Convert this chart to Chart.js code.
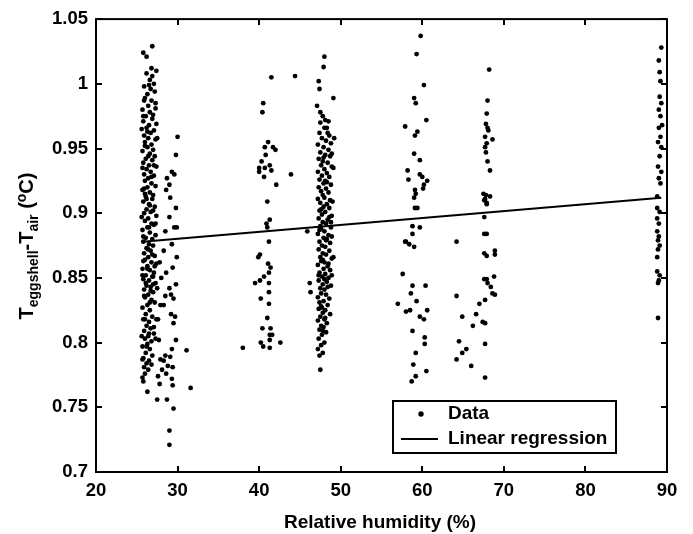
<!DOCTYPE html>
<html>
<head>
<meta charset="utf-8">
<script src="https://cdn.jsdelivr.net/npm/chart.js@4.4.1/dist/chart.umd.min.js"></script>
<style>
  html, body { margin: 0; padding: 0; background: #fff; }
  #wrap { width: 693px; height: 534px; }
</style>
</head>
<body>
<div id="wrap"><canvas id="eggChart" width="693" height="534"></canvas></div>
<script>
// Eggshell - air temperature difference vs relative humidity

// measured points, [RH %, dT degC], read per humidity group
const rh26 = [
  [25.8,1.024],[26.2,1.021],[26.9,1.029],[26.8,1.012],[27.4,1.010],[26.2,1.008],[26.9,1.006],[26.6,1.003],
  [27.1,1.000],[25.9,0.998],[26.7,0.996],[27.2,0.994],[26.3,0.992],[26.0,0.989],[26.8,0.987],[27.3,0.985],
  [26.4,0.983],[25.7,0.980],[26.6,0.978],[27.0,0.976],[26.1,0.975],[26.9,0.973],[25.8,0.971],[27.4,0.969],
  [26.5,0.968],[26.2,0.966],[27.1,0.964],[26.7,0.962],[25.9,0.960],[26.4,0.958],[27.3,0.957],[26.0,0.955],
  [26.8,0.953],[26.3,0.951],[27.0,0.949],[25.7,0.948],[26.6,0.946],[27.2,0.944],[26.1,0.942],[26.9,0.941],
  [25.8,0.939],[26.5,0.937],[27.4,0.936],[26.2,0.934],[26.7,0.932],[25.9,0.930],[27.1,0.929],[26.4,0.927],
  [26.0,0.925],[26.8,0.923],[27.3,0.921],[26.3,0.920],[25.7,0.918],[26.6,0.916],[27.0,0.914],[26.1,0.913],
  [26.9,0.911],[25.8,0.909],[26.5,0.907],[27.2,0.905],[26.2,0.903],[26.7,0.901],[25.9,0.900],[27.4,0.898],
  [26.4,0.896],[26.0,0.894],[26.8,0.892],[27.1,0.891],[26.3,0.889],[25.7,0.887],[26.6,0.885],[27.3,0.883],
  [26.1,0.881],[26.9,0.880],[25.8,0.878],[26.5,0.876],[27.0,0.875],[26.2,0.873],[26.7,0.871],[25.9,0.869],
  [27.2,0.867],[26.4,0.866],[26.0,0.864],[26.8,0.862],[27.4,0.861],[26.3,0.859],[25.7,0.857],[26.6,0.856],
  [27.1,0.854],[26.1,0.852],[26.9,0.851],[25.8,0.849],[26.5,0.848],[27.3,0.846],[26.2,0.844],[26.7,0.843],
  [25.9,0.841],[27.0,0.839],[26.4,0.837],[26.0,0.835],[26.8,0.833],[27.2,0.831],[26.3,0.829],[25.7,0.827],
  [26.6,0.825],[26.1,0.822],[26.9,0.820],[25.8,0.818],[26.5,0.816],[27.4,0.818],[26.2,0.813],[26.7,0.811],
  [25.9,0.809],[27.1,0.807],[26.4,0.805],[26.0,0.803],[26.8,0.801],[27.3,0.803],[26.3,0.799],[25.7,0.797],
  [26.6,0.795],[26.1,0.792],[26.9,0.790],[25.8,0.788],[26.5,0.786],[26.2,0.784],[25.9,0.781],[26.4,0.779],
  [26.0,0.776],[25.7,0.773],[25.8,0.770],[26.3,0.762],
  [25.6,0.965],[26.0,0.952],[26.4,0.944],[27.5,0.958],[25.7,0.935],[26.8,0.928],[25.9,0.919],[26.2,0.911],
  [27.0,0.902],[25.6,0.897],[26.5,0.889],[26.9,0.868],[25.8,0.863],[26.3,0.857],[27.2,0.859],[25.7,0.852],
  [26.1,0.846],[26.7,0.840],[27.0,0.851],[25.9,0.836],[26.6,0.831],[26.0,0.818],[26.5,0.807],[27.1,0.812],
  [25.6,0.805],[26.2,0.797],[26.8,0.783],[25.7,0.787],[27.0,0.845],[26.4,0.872],[25.8,0.882],[27.3,0.892],
  [26.6,0.906],[26.0,0.915],[27.1,0.937],[26.3,0.963],[25.8,0.975],[27.3,0.981],[26.5,0.999],[25.9,0.987]
];
const rh29 = [
  [30.0,0.959],[29.8,0.945],[29.3,0.932],[29.6,0.930],[28.7,0.927],[29.0,0.922],[28.6,0.918],[29.1,0.912],
  [29.8,0.904],[29.0,0.897],[29.6,0.889],[29.9,0.889],[28.5,0.886],[29.3,0.876],[29.9,0.866],[28.3,0.871],
  [29.4,0.858],[29.8,0.845],[28.6,0.854],[29.2,0.837],[28.5,0.836],[29.0,0.842],[28.3,0.829],[29.5,0.834],
  [29.2,0.822],[29.7,0.820],[29.5,0.815],[29.8,0.802],[29.3,0.795],[28.5,0.790],[28.3,0.786],[29.1,0.789],
  [28.8,0.782],[29.4,0.781],[28.1,0.779],[28.6,0.776],[29.3,0.772],[27.8,0.768],[29.4,0.767],[27.6,0.774],
  [27.9,0.787],[27.7,0.802],[27.6,0.818],[27.9,0.829],[27.5,0.842],[28.0,0.850],[27.8,0.862],
  [31.1,0.794],[31.6,0.765],[29.5,0.749],[29.0,0.732],[29.0,0.721],[28.7,0.756],[27.5,0.756]
];
const rh41 = [
  [40.5,0.985],[40.4,0.978],[41.1,0.955],[40.7,0.951],[41.7,0.951],[42.0,0.949],[40.8,0.945],[40.3,0.940],
  [41.3,0.937],[40.0,0.935],[40.7,0.935],[40.0,0.932],[41.5,0.933],[40.6,0.928],[43.9,0.930],[42.1,0.922],
  [41.0,0.909],[41.3,0.895],[40.9,0.892],[41.0,0.889],[41.2,0.878],[40.1,0.868],[39.9,0.866],[41.1,0.861],
  [41.4,0.858],[41.2,0.854],[40.6,0.851],[40.1,0.848],[39.5,0.846],[41.2,0.846],[41.2,0.839],[40.2,0.834],
  [41.2,0.830],[41.0,0.819],[40.4,0.811],[41.4,0.811],[41.3,0.806],[41.6,0.806],[41.3,0.802],[40.2,0.800],
  [42.6,0.800],[40.5,0.797],[41.3,0.796],[38.0,0.796],[41.5,1.005],[44.4,1.006]
];
const rh48 = [
  [48.0,1.021],[47.9,1.013],[47.3,1.002],[47.4,0.996],[49.1,0.989],[47.1,0.983],[47.5,0.978],[47.8,0.975],
  [48.1,0.972],[48.5,0.971],[48.0,0.966],[48.3,0.966],[47.4,0.962],[48.6,0.960],[47.7,0.958],[48.2,0.956],
  [48.8,0.954],[47.2,0.953],[47.9,0.951],[48.5,0.949],[47.5,0.947],[48.1,0.945],[48.7,0.944],[47.3,0.942],
  [47.8,0.940],[48.4,0.939],[47.6,0.937],[48.9,0.936],[48.0,0.934],[47.2,0.932],[48.3,0.931],[47.7,0.929],
  [48.6,0.928],[47.4,0.926],[48.1,0.925],[47.9,0.923],[48.8,0.922],[47.3,0.920],[48.2,0.919],[47.6,0.917],
  [48.5,0.916],[47.8,0.914],[48.0,0.912],[47.2,0.911],[48.7,0.910],[47.5,0.908],[48.3,0.907],[47.9,0.905],
  [48.6,0.904],[47.4,0.902],[48.1,0.901],[47.7,0.899],[48.9,0.898],[47.3,0.896],[48.4,0.895],[47.8,0.893],
  [48.2,0.892],[47.5,0.890],[48.8,0.889],[47.6,0.888],[48.0,0.886],[45.9,0.886],[47.2,0.884],[48.5,0.883],
  [47.9,0.881],[48.3,0.880],[47.4,0.878],[48.7,0.877],[47.7,0.875],[48.1,0.874],[47.3,0.872],[48.6,0.871],
  [47.8,0.869],[48.2,0.868],[47.5,0.866],[48.9,0.865],[47.6,0.863],[48.0,0.862],[47.2,0.860],[48.4,0.859],
  [47.9,0.857],[48.7,0.856],[47.4,0.854],[48.1,0.853],[47.7,0.851],[48.5,0.850],[47.3,0.848],[48.3,0.847],
  [46.2,0.846],[47.8,0.845],[48.8,0.844],[47.5,0.842],[48.0,0.841],[46.3,0.839],[47.6,0.838],[48.2,0.837],
  [47.2,0.835],[48.6,0.834],[47.9,0.832],[47.4,0.831],[48.4,0.829],[47.7,0.827],[47.3,0.826],[48.1,0.825],
  [47.8,0.823],[48.7,0.822],[47.5,0.820],[48.0,0.818],[47.2,0.817],[48.3,0.815],[47.6,0.813],[47.9,0.812],
  [47.4,0.810],[48.2,0.808],[47.7,0.806],[47.3,0.803],[48.0,0.800],[47.6,0.798],[47.2,0.795],[47.8,0.792],
  [47.4,0.790],[47.5,0.779],
  [47.5,0.970],[48.4,0.962],[47.9,0.943],[48.3,0.924],[47.6,0.903],[48.6,0.897],[47.4,0.887],[48.2,0.879],
  [47.8,0.864],[48.5,0.861],[47.3,0.852],[48.0,0.849],[48.4,0.843],[47.6,0.828],[48.1,0.819],[47.8,0.809],
  [48.9,0.882],[49.0,0.909],[49.1,0.935],[48.9,0.946],[49.2,0.958],[48.8,0.893],[49.1,0.866],[48.9,0.852]
];
const rh59 = [
  [59.8,1.037],[59.3,1.023],[60.2,0.999],[59.0,0.989],[59.2,0.985],[60.5,0.972],[57.9,0.967],[59.4,0.963],
  [59.1,0.960],[59.0,0.946],[59.7,0.941],[58.2,0.933],[59.7,0.930],[60.0,0.928],[60.6,0.925],[58.3,0.926],
  [60.2,0.922],[60.1,0.919],[59.1,0.918],[59.2,0.915],[59.0,0.912],[59.4,0.904],[59.1,0.904],
  [58.8,0.890],[59.7,0.889],[58.8,0.884],[57.9,0.878],[58.0,0.878],[58.4,0.876],[59.0,0.874],[57.6,0.853],
  [58.8,0.844],[60.4,0.844],[58.6,0.838],[59.3,0.832],[57.0,0.830],[58.0,0.824],[58.5,0.825],[60.6,0.825],
  [59.7,0.820],[60.2,0.818],[58.8,0.809],[60.3,0.804],[60.3,0.799],[59.2,0.792],[58.9,0.783],[60.5,0.778],
  [59.2,0.774],[58.7,0.770]
];
const rh67 = [
  [68.2,1.011],[68.0,0.987],[67.9,0.977],[67.8,0.969],[68.0,0.966],[68.1,0.964],[67.7,0.959],[68.6,0.957],
  [67.9,0.954],[67.7,0.951],[67.8,0.947],[68.0,0.940],[68.3,0.933],[67.5,0.915],[67.8,0.914],[68.3,0.913],
  [67.7,0.911],[67.9,0.908],[67.6,0.910],[67.9,0.907],[67.6,0.897],[67.6,0.884],[67.9,0.884],[64.2,0.878],
  [67.6,0.869],[67.9,0.867],[68.9,0.871],[68.9,0.868],[67.6,0.849],[67.9,0.849],[68.8,0.851],[68.0,0.846],
  [68.4,0.843],[68.6,0.838],[68.9,0.837],[64.2,0.836],[67.7,0.833],[67.0,0.830],[66.6,0.822],[64.9,0.820],
  [66.2,0.813],[67.4,0.816],[67.7,0.815],[67.7,0.799],[64.5,0.801],[65.4,0.795],[64.9,0.792],[64.2,0.787],
  [66.0,0.782],[67.7,0.773]
];
const rh89 = [
  [89.3,1.028],[89.0,1.018],[89.1,1.009],[89.2,1.002],[89.1,0.990],[89.3,0.985],[89.0,0.980],[89.2,0.975],
  [89.4,0.968],[89.0,0.966],[89.2,0.959],[88.9,0.955],[89.3,0.951],[89.1,0.944],[88.9,0.936],[89.3,0.932],
  [89.0,0.927],[89.2,0.923],[88.8,0.913],[88.8,0.904],[89.1,0.901],[88.8,0.896],[89.0,0.892],[88.8,0.886],
  [89.0,0.882],[88.9,0.879],[89.1,0.875],[88.9,0.872],[88.8,0.866],[88.8,0.855],[89.1,0.852],[89.0,0.848],
  [88.9,0.846],[88.9,0.819]
];

// fitted line end points
const fitRh = [25.7, 89.3];
const fitDt = [0.878, 0.912];

const xTicks = [20, 30, 40, 50, 60, 70, 80, 90];
const yTicks = [0.7, 0.75, 0.8, 0.85, 0.9, 0.95, 1, 1.05];

const FONT = "'Liberation Sans', Arial, sans-serif";

const allPoints = [].concat(rh26, rh29, rh41, rh48, rh59, rh67, rh89).map(p => ({ x: p[0], y: p[1] }));
const fitPoints = fitRh.map((x, i) => ({ x: x, y: fitDt[i] }));

// box, inward ticks, axis titles and legend
const framePlugin = {
    id: 'frame',
    afterDraw(chart) {
        const ctx = chart.ctx;
        const a = chart.chartArea;
        const xs = chart.scales.x, ys = chart.scales.y;
        ctx.save();
        ctx.strokeStyle = '#000';
        ctx.lineWidth = 2;
        ctx.strokeRect(a.left, a.top, a.right - a.left, a.bottom - a.top);

        const tl = 6;
        ctx.beginPath();
        xTicks.forEach(v => {
            const px = Math.round(xs.getPixelForValue(v));
            ctx.moveTo(px, a.bottom); ctx.lineTo(px, a.bottom - tl);
            ctx.moveTo(px, a.top); ctx.lineTo(px, a.top + tl);
        });
        yTicks.forEach(v => {
            const py = Math.round(ys.getPixelForValue(v));
            ctx.moveTo(a.left, py); ctx.lineTo(a.left + tl, py);
            ctx.moveTo(a.right, py); ctx.lineTo(a.right - tl, py);
        });
        ctx.stroke();

        // x title
        ctx.fillStyle = '#000';
        ctx.font = 'bold 19px ' + FONT;
        ctx.textAlign = 'center';
        ctx.textBaseline = 'middle';
        ctx.fillText('Relative humidity (%)', 380, 523);

        // y title with sub/superscripts
        const parts = [
            { t: 'T', f: 'bold 20px ', dy: 0 },
            { t: 'eggshell', f: 'bold 14px ', dy: 5 },
            { t: '-T', f: 'bold 20px ', dy: 0 },
            { t: 'air', f: 'bold 14px ', dy: 5 },
            { t: ' (', f: 'bold 20px ', dy: 0 },
            { t: 'o', f: 'bold 14px ', dy: -7 },
            { t: 'C)', f: 'bold 20px ', dy: 0 }
        ];
        let total = 0;
        parts.forEach(p => { ctx.font = p.f + FONT; p.w = ctx.measureText(p.t).width; total += p.w; });
        ctx.translate(33, 246);
        ctx.rotate(-Math.PI / 2);
        ctx.textAlign = 'left';
        ctx.textBaseline = 'alphabetic';
        let cx = -total / 2;
        parts.forEach(p => {
            ctx.font = p.f + FONT;
            ctx.fillText(p.t, cx, p.dy);
            cx += p.w;
        });
        ctx.setTransform(1, 0, 0, 1, 0, 0);

        // legend
        const lx = 393, ly = 401, lw = 223, lh = 52;
        ctx.fillStyle = '#fff';
        ctx.fillRect(lx, ly, lw, lh);
        ctx.lineWidth = 2;
        ctx.strokeRect(lx, ly, lw, lh);
        ctx.fillStyle = '#000';
        ctx.beginPath();
        ctx.arc(421, 414, 2.7, 0, Math.PI * 2);
        ctx.fill();
        ctx.beginPath();
        ctx.moveTo(401, 439); ctx.lineTo(438, 439);
        ctx.stroke();
        ctx.font = 'bold 19px ' + FONT;
        ctx.textAlign = 'left';
        ctx.textBaseline = 'middle';
        ctx.fillText('Data', 448, 414);
        ctx.fillText('Linear regression', 448, 439);
        ctx.restore();
    }
};

const ctx = document.getElementById('eggChart');
const eggChart = new Chart(ctx, {
    type: 'scatter',
    data: {
        datasets: [
            {
                label: 'Data',
                data: allPoints,
                backgroundColor: '#000',
                borderColor: '#000',
                pointRadius: 2.4,
                pointBorderWidth: 0
            },
            {
                label: 'Linear regression',
                data: fitPoints,
                showLine: true,
                borderColor: '#000',
                borderWidth: 2,
                pointRadius: 0
            }
        ]
    },
    options: {
        responsive: false,
        animation: false,
        layout: { padding: { top: 19, right: 26, left: 0, bottom: 0 } },
        plugins: {
            legend: { display: false },
            tooltip: { enabled: false }
        },
        scales: {
            x: {
                type: 'linear',
                min: 20,
                max: 90,
                afterBuildTicks: s => { s.ticks = xTicks.map(v => ({ value: v })); },
                afterFit: s => { s.height = 62; },
                grid: { display: false, drawTicks: false },
                border: { display: false },
                ticks: {
                    padding: 8,
                    color: '#000',
                    font: { family: FONT, size: 18.5, weight: 'bold' }
                }
            },
            y: {
                type: 'linear',
                min: 0.7,
                max: 1.05,
                afterBuildTicks: s => { s.ticks = yTicks.map(v => ({ value: v })); },
                afterFit: s => { s.width = 96; },
                grid: { display: false, drawTicks: false },
                border: { display: false },
                ticks: {
                    padding: 8,
                    color: '#000',
                    font: { family: FONT, size: 18.5, weight: 'bold' },
                    callback: v => String(Number(v.toFixed(2)))
                }
            }
        }
    },
    plugins: [framePlugin]
});
</script>
</body>
</html>
